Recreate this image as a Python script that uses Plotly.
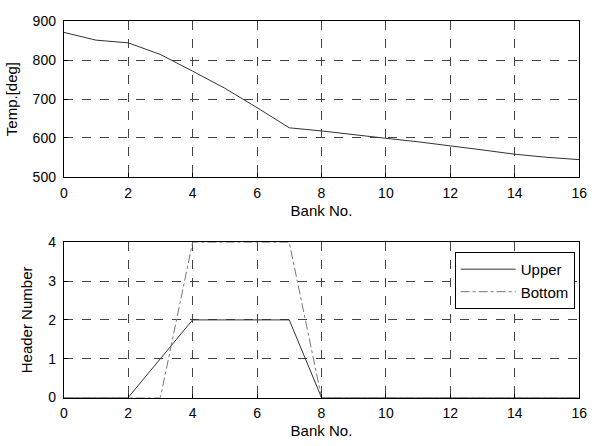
import plotly.graph_objects as go

bank = list(range(17))
temp = [872, 852, 845, 815, 772, 728, 678, 626, 618, 608, 599, 590, 580, 569, 558, 550, 544]
upper = [0, 0, 0, 1, 2, 2, 2, 2, 0, 0, 0, 0, 0, 0, 0, 0, 0]
bottom_x = [0, 1, 2, 3, 4, 5, 6, 7, 8, 9, 10, 11, 12, 13, 14, 15, 16]
bottom = [0, 0, 0, 0, 4, 4, 4, 4, 0, 0, 0, 0, 0, 0, 0, 0, 0]
xticks = [0, 2, 4, 6, 8, 10, 12, 14, 16]

W, H = 595, 446
fig = go.Figure()
fig.add_trace(go.Scatter(x=bank, y=temp, mode="lines", line=dict(color="#333", width=1),
                         showlegend=False, xaxis="x", yaxis="y"))
fig.add_trace(go.Scatter(x=bank, y=upper, mode="lines", name="Upper",
                         line=dict(color="#333", width=1), xaxis="x2", yaxis="y2"))
fig.add_trace(go.Scatter(x=bottom_x, y=bottom, mode="lines", name="Bottom",
                         line=dict(color="#777", width=1, dash="dashdot"), xaxis="x2", yaxis="y2"))

tfont = dict(family="Liberation Sans, Arial", size=14, color="black")
lfont = dict(family="Liberation Sans, Arial", size=15, color="black")
axcommon = dict(showline=True, mirror=True, linecolor="black", linewidth=1,
                showgrid=True, gridcolor="#444", gridwidth=1, griddash="dash",
                ticks="inside", ticklen=4, tickcolor="black", zeroline=False,
                tickfont=tfont, title_font=lfont)

xd = [61 / W, 587 / W]
fig.update_layout(
    width=W, height=H, margin=dict(l=0, r=0, t=0, b=0),
    paper_bgcolor="white", plot_bgcolor="white", font=tfont,
    xaxis=dict(domain=xd, range=[0, 16], tickvals=xticks, anchor="y",
               ticklabelstandoff=3,
               title=dict(text="Bank No.", standoff=5), **axcommon),
    yaxis=dict(domain=[(H - 175) / H, (H - 14) / H], range=[500, 900],
               tickvals=[500, 600, 700, 800, 900], anchor="x", ticklabelstandoff=4,
               title=dict(text="Temp.[deg]", standoff=11), **axcommon),
    xaxis2=dict(domain=xd, range=[0, 16], tickvals=xticks, anchor="y2",
                ticklabelstandoff=3,
                title=dict(text="Bank No.", standoff=5), **axcommon),
    yaxis2=dict(domain=[(H - 404) / H, (H - 243) / H], range=[0, 4],
                tickvals=[0, 1, 2, 3, 4], anchor="x2", ticklabelstandoff=4,
                title=dict(text="Header Number", standoff=11), **axcommon),
    legend=dict(x=460 / W, y=(H - 253) / H, xanchor="left", yanchor="top",
                bgcolor="white", bordercolor="black", borderwidth=1,
                font=lfont, tracegroupgap=0, itemwidth=55),
)
fig.write_html("out.html")
